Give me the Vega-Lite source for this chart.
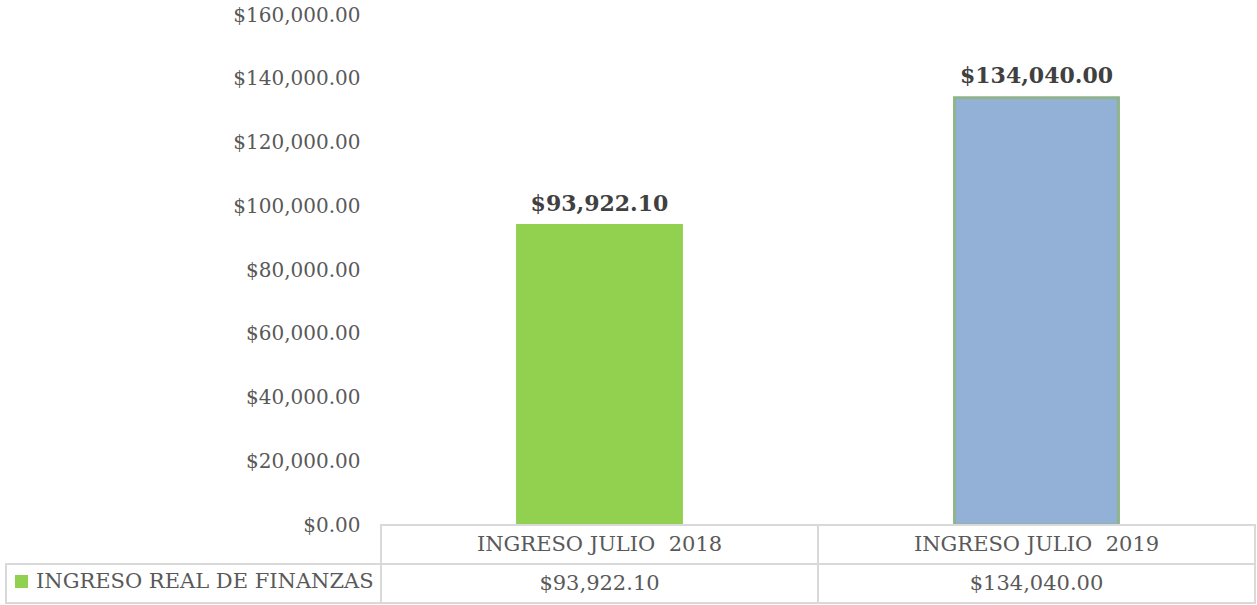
{
  "$schema": "https://vega.github.io/schema/vega-lite/v6.json",
  "padding": {"left": 5, "top": 5, "right": 3, "bottom": 1},
  "background": "white",
  "config": {
    "view": {"stroke": null},
    "font": "DejaVu Serif",
    "style": {"guide-label": {"font": "DejaVu Serif"}},
    "legend": {"labelFont": "DejaVu Serif", "labelFontSize": 21, "labelColor": "#595959"}
  },
  "datasets": {
    "ingresos": [
      {"categoria": "INGRESO JULIO \u00a02018", "anio": "2018", "serie": "INGRESO REAL DE FINANZAS", "monto": 93922.10},
      {"categoria": "INGRESO JULIO \u00a02019", "anio": "2019", "serie": "INGRESO REAL DE FINANZAS", "monto": 134040.00}
    ]
  },
  "columns": 2,
  "spacing": 0,
  "bounds": "flush",
  "concat": [
    {
      "width": 375,
      "height": 510,
      "data": {"values": [{}]},
      "mark": {"type": "text"},
      "encoding": {"text": {"value": ""}}
    },
    {
      "width": 874,
      "height": 510,
      "data": {"name": "ingresos"},
      "encoding": {
        "x": {
          "field": "categoria", "type": "nominal", "sort": null,
          "scale": {"paddingInner": 0.625, "paddingOuter": 0.3125},
          "axis": {"title": null, "labels": false, "ticks": false, "domainColor": "#C8C8C8", "domainWidth": 3}
        },
        "y": {
          "field": "monto", "type": "quantitative",
          "scale": {"domain": [0, 160000], "nice": false},
          "axis": {
            "title": null,
            "values": [0, 20000, 40000, 60000, 80000, 100000, 120000, 140000, 160000],
            "format": "$,.2f",
            "domain": false, "ticks": false, "grid": false,
            "labelPadding": 21, "labelFontSize": 20, "labelColor": "#595959", "labelFont": "DejaVu Serif"
          }
        }
      },
      "layer": [
        {
          "mark": {"type": "bar", "strokeWidth": 3},
          "encoding": {
            "fill": {"field": "anio", "type": "nominal", "scale": {"domain": ["2018", "2019"], "range": ["#92D050", "#93B1D6"]}, "legend": null},
            "stroke": {"field": "anio", "type": "nominal", "scale": {"domain": ["2018", "2019"], "range": ["#92D050", "#8FB38A"]}, "legend": null}
          }
        },
        {
          "mark": {"type": "text", "baseline": "alphabetic", "dy": -15, "fontSize": 22, "fontWeight": "bold", "color": "#404040", "font": "DejaVu Serif"},
          "encoding": {"text": {"field": "monto", "type": "quantitative", "format": "$,.2f"}}
        }
      ]
    },
    {
      "width": 375,
      "height": 78,
      "data": {"name": "ingresos"},
      "layer": [
        {
          "mark": {"type": "rect", "fill": "white", "stroke": "#D9D9D9", "strokeWidth": 2},
          "encoding": {
            "y": {"datum": "v", "type": "nominal", "scale": {"domain": ["h", "v"], "paddingInner": 0, "paddingOuter": 0}, "axis": null}
          }
        },
        {
          "mark": {"type": "point", "filled": true, "opacity": 0, "shape": "square"},
          "encoding": {
            "color": {
              "field": "serie", "type": "nominal",
              "scale": {"range": ["#92D050"]},
              "legend": {
                "title": null, "orient": "none", "legendX": 5, "legendY": 46,
                "symbolType": "square", "symbolSize": 169, "symbolOpacity": 1, "symbolStrokeWidth": 0,
                "labelFont": "DejaVu Serif", "labelFontSize": 21, "labelColor": "#595959",
                "labelLimit": 400, "labelOffset": 4, "padding": 0,
                "encode": {"labels": {"update": {"font": {"value": "DejaVu Serif"}}}}
              }
            }
          }
        }
      ]
    },
    {
      "width": 874,
      "height": 78,
      "data": {"name": "ingresos"},
      "encoding": {
        "x": {"field": "categoria", "type": "nominal", "sort": null, "scale": {"paddingInner": 0, "paddingOuter": 0}, "axis": null}
      },
      "layer": [
        {
          "mark": {"type": "rect", "fill": "white", "stroke": "#D9D9D9", "strokeWidth": 2},
          "encoding": {"y": {"datum": "h", "type": "nominal", "scale": {"domain": ["h", "v"], "paddingInner": 0, "paddingOuter": 0}, "axis": null}}
        },
        {
          "mark": {"type": "rect", "fill": "white", "stroke": "#D9D9D9", "strokeWidth": 2},
          "encoding": {"y": {"datum": "v", "type": "nominal"}}
        },
        {
          "mark": {"type": "text", "fontSize": 21, "color": "#595959", "font": "DejaVu Serif"},
          "encoding": {"y": {"datum": "h", "type": "nominal"}, "text": {"field": "categoria", "type": "nominal"}}
        },
        {
          "mark": {"type": "text", "fontSize": 21, "color": "#595959", "font": "DejaVu Serif"},
          "encoding": {"y": {"datum": "v", "type": "nominal"}, "text": {"field": "monto", "type": "quantitative", "format": "$,.2f"}}
        }
      ]
    }
  ],
  "resolve": {
    "scale": {"x": "independent", "y": "independent", "color": "independent", "fill": "independent", "stroke": "independent"},
    "legend": {"color": "independent"}
  }
}
